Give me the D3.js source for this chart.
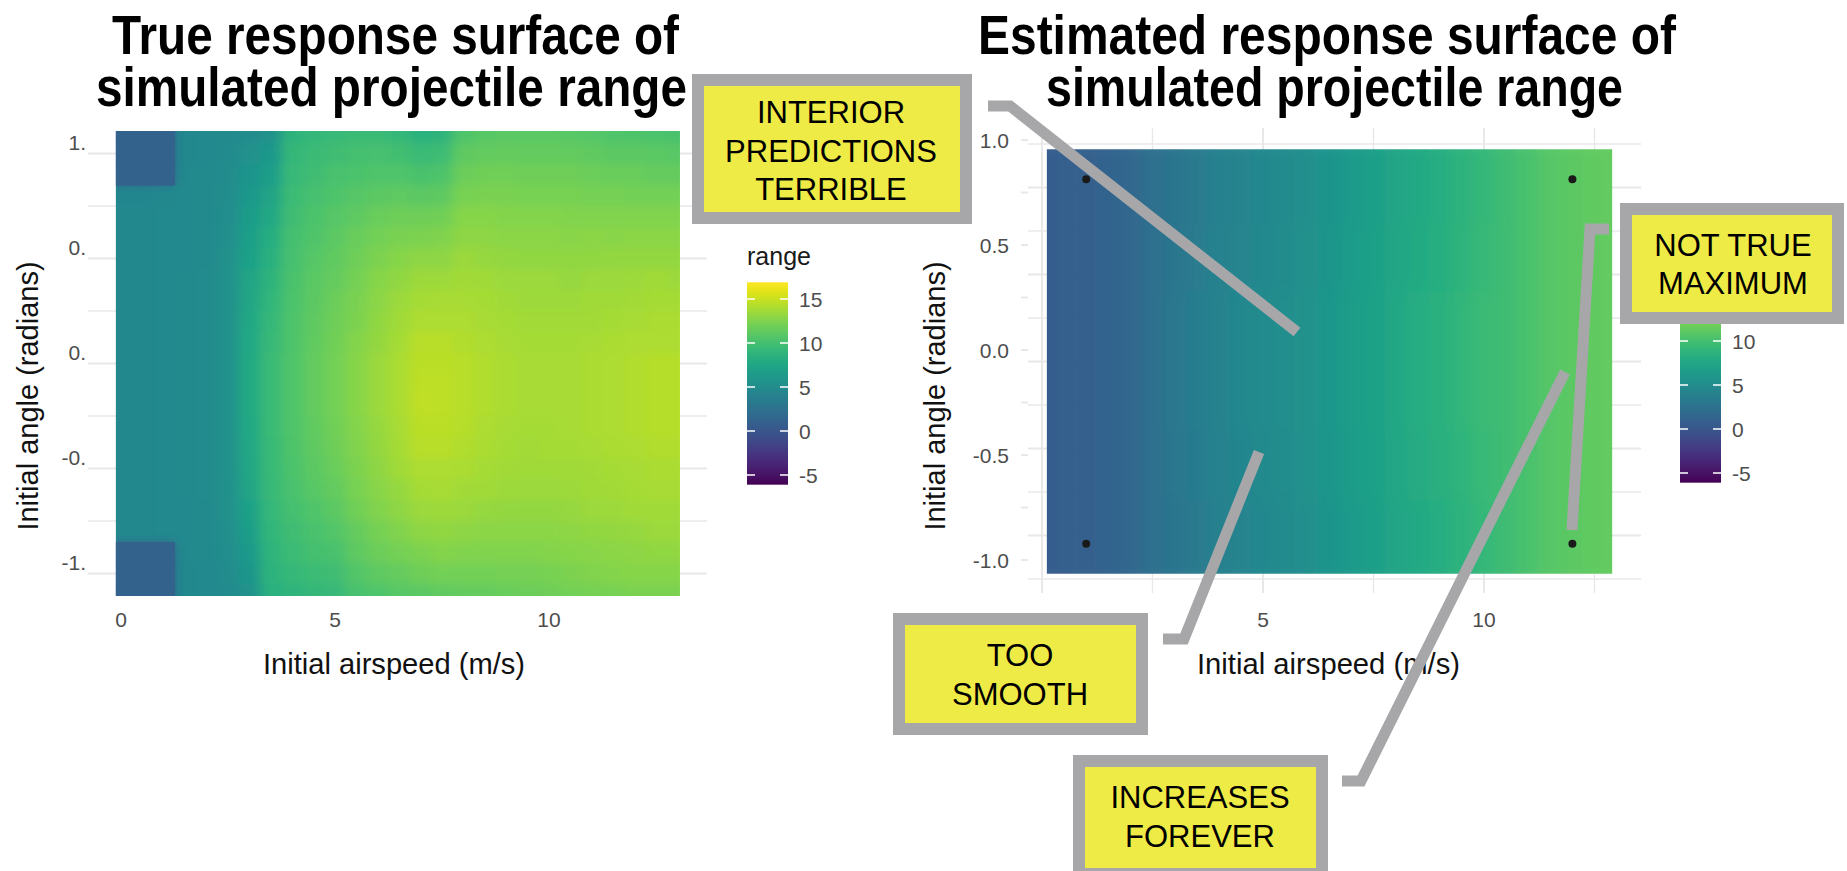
<!DOCTYPE html>
<html><head><meta charset="utf-8">
<script src="https://cdn.jsdelivr.net/npm/d3@7"></script>
<style>
body{margin:0;background:#fff}
svg{display:block}
text{font-family:"Liberation Sans",Arial,Helvetica,sans-serif}
</style>
</head><body>
<svg id="c" width="1847" height="871"></svg>
<script>
// ---------------- DATA ----------------
const speedCells = [0,0.5,1,1.5,2,2.5,3,3.5,4,4.5,5,5.5,6,6.5,7,7.5,8,8.5,9,9.5,10,10.5,11,11.5,12,12.5,13];
const trueAngleRows = [1.1,1.0,0.9,0.8,0.7,0.6,0.5,0.4,0.3,0.2,0.1,0.0,-0.1,-0.2,-0.3,-0.4,-0.5,-0.6,-0.7,-0.8,-0.9,-1.0,-1.1];
const trueRange = [
[1.0,1.0,1.0,4.6,4.7,4.8,5.0,5.6,8.8,9.2,9.4,9.5,9.5,9.2,8.6,8.8,10.6,10.9,11.0,11.0,11.0,10.9,10.8,10.6,10.5,10.4,10.3],
[1.0,1.0,1.0,4.6,4.7,4.9,5.4,6.2,9.1,9.5,9.8,10.0,10.1,9.9,9.5,9.7,11.2,11.4,11.5,11.4,11.4,11.4,11.3,11.1,11.1,11.0,10.9],
[1.0,1.0,1.0,4.7,4.8,5.0,5.8,6.7,9.3,9.8,10.2,10.4,10.6,10.6,10.3,10.5,11.7,11.9,11.9,11.8,11.8,11.8,11.7,11.6,11.6,11.5,11.5],
[4.5,4.5,4.6,4.7,4.8,5.1,6.2,7.2,9.6,10.1,10.5,10.8,11.1,11.2,11.1,11.2,12.2,12.3,12.3,12.2,12.2,12.2,12.1,12.1,12.0,12.0,12.0],
[4.6,4.6,4.7,4.7,4.8,5.2,6.5,7.7,9.8,10.4,10.8,11.2,11.6,11.8,11.8,11.9,12.7,12.7,12.6,12.6,12.6,12.5,12.5,12.5,12.5,12.5,12.5],
[4.6,4.6,4.7,4.7,4.8,5.3,6.8,8.1,10.0,10.6,11.1,11.6,12.0,12.3,12.4,12.5,13.0,13.0,12.9,12.9,12.9,12.8,12.9,12.8,12.9,12.9,12.9],
[4.6,4.6,4.7,4.7,4.8,5.4,7.0,8.5,10.1,10.8,11.3,11.8,12.4,12.7,13.0,13.0,13.4,13.3,13.2,13.1,13.1,13.1,13.1,13.2,13.2,13.2,13.2],
[4.6,4.6,4.7,4.8,4.9,5.5,7.3,8.8,10.3,11.0,11.5,12.1,12.7,13.1,13.5,13.5,13.7,13.6,13.4,13.4,13.4,13.3,13.4,13.4,13.5,13.6,13.5],
[4.6,4.6,4.7,4.8,4.9,5.5,7.4,9.0,10.4,11.1,11.7,12.3,12.9,13.4,13.8,13.9,13.9,13.8,13.6,13.5,13.5,13.5,13.6,13.6,13.7,13.8,13.8],
[4.6,4.6,4.7,4.8,4.9,5.5,7.6,9.2,10.5,11.2,11.8,12.4,13.1,13.6,14.1,14.1,14.1,13.9,13.8,13.7,13.7,13.7,13.7,13.8,13.9,14.0,14.0],
[4.6,4.6,4.7,4.8,4.9,5.6,7.7,9.3,10.5,11.3,11.9,12.6,13.2,13.8,14.4,14.4,14.2,14.1,13.9,13.8,13.8,13.8,13.9,14.0,14.1,14.1,14.1],
[4.6,4.6,4.7,4.8,4.9,5.6,7.8,9.5,10.6,11.4,12.0,12.7,13.4,14.0,14.5,14.5,14.4,14.2,14.0,13.9,13.9,13.9,14.0,14.1,14.2,14.3,14.3],
[4.6,4.6,4.7,4.8,4.9,5.6,7.8,9.5,10.6,11.4,12.0,12.7,13.4,14.0,14.6,14.6,14.4,14.2,14.0,13.9,13.9,13.9,14.0,14.1,14.2,14.3,14.3],
[4.6,4.6,4.7,4.8,4.9,5.6,7.8,9.5,10.6,11.4,12.0,12.7,13.4,14.0,14.7,14.6,14.4,14.2,14.0,13.9,13.9,13.9,14.0,14.1,14.2,14.3,14.3],
[4.6,4.6,4.7,4.8,4.9,5.6,7.7,9.5,10.6,11.3,11.9,12.6,13.3,13.9,14.5,14.5,14.3,14.1,13.9,13.8,13.8,13.9,14.0,14.1,14.2,14.3,14.3],
[4.6,4.6,4.7,4.8,4.9,5.5,7.6,9.4,10.5,11.2,11.8,12.5,13.2,13.8,14.4,14.4,14.2,14.0,13.8,13.7,13.8,13.8,13.9,14.0,14.1,14.2,14.2],
[4.6,4.6,4.7,4.8,4.9,5.5,7.5,9.4,10.4,11.1,11.6,12.4,13.0,13.6,14.1,14.1,14.0,13.8,13.7,13.6,13.6,13.6,13.7,13.8,13.9,14.0,14.0],
[4.6,4.6,4.7,4.8,4.9,5.4,7.3,9.3,10.2,10.9,11.4,12.2,12.8,13.3,13.8,13.9,13.7,13.6,13.5,13.4,13.4,13.5,13.6,13.7,13.8,13.9,13.9],
[4.6,4.6,4.7,4.7,4.8,5.4,7.0,9.2,10.0,10.6,11.1,11.9,12.5,13.0,13.4,13.5,13.4,13.3,13.2,13.2,13.2,13.3,13.4,13.5,13.6,13.6,13.6],
[4.6,4.6,4.7,4.7,4.8,5.3,6.7,9.0,9.8,10.3,10.7,11.5,12.1,12.5,13.0,13.1,13.0,12.9,12.9,12.9,12.9,13.0,13.1,13.2,13.3,13.4,13.4],
[1.0,1.0,1.0,4.7,4.8,5.2,6.3,8.9,9.6,10.0,10.3,11.2,11.7,12.1,12.4,12.6,12.5,12.5,12.5,12.5,12.6,12.7,12.8,12.9,13.0,13.1,13.1],
[1.0,1.0,1.0,4.6,4.7,5.0,5.9,8.7,9.2,9.6,9.8,10.7,11.2,11.5,11.8,12.0,12.0,12.0,12.1,12.1,12.2,12.4,12.5,12.6,12.7,12.7,12.7],
[1.0,1.0,1.0,4.6,4.7,4.9,5.4,8.5,8.9,9.1,9.3,10.2,10.6,10.9,11.1,11.3,11.4,11.5,11.6,11.7,11.8,12.0,12.1,12.2,12.3,12.3,12.3]
];
const estAngleRows = [1.0,0.6,0.2,-0.2,-0.6,-1.0];
const estRange = [
[0.5,0.7,0.9,1.2,1.6,2.3,2.8,3.3,3.9,4.3,4.6,4.9,5.3,5.8,6.3,6.8,7.3,7.8,8.2,8.7,9.2,9.8,10.3,10.8,11.1,11.3,11.5],
[0.5,0.7,0.9,1.2,1.6,2.3,2.9,3.4,4.0,4.4,4.7,5.0,5.4,5.9,6.4,6.9,7.4,7.9,8.3,8.8,9.3,9.8,10.3,10.8,11.1,11.3,11.5],
[0.5,0.7,0.9,1.2,1.6,2.3,3.1,3.6,4.2,4.6,4.9,5.2,5.6,6.1,6.6,7.1,7.6,8.1,8.5,9.0,9.5,9.8,10.3,10.8,11.1,11.3,11.5],
[0.5,0.7,0.9,1.2,1.6,2.3,3.1,3.6,4.2,4.6,4.9,5.2,5.6,6.1,6.6,7.1,7.6,8.1,8.5,9.0,9.5,9.8,10.3,10.8,11.1,11.3,11.5],
[0.5,0.7,0.9,1.2,1.6,2.3,3.0,3.5,4.1,4.5,4.8,5.1,5.5,6.0,6.5,7.0,7.5,8.0,8.4,8.9,9.4,9.8,10.3,10.8,11.1,11.3,11.5],
[0.5,0.7,0.9,1.2,1.6,2.3,2.8,3.3,3.9,4.3,4.6,4.9,5.3,5.8,6.3,6.8,7.3,7.8,8.2,8.7,9.2,9.8,10.3,10.8,11.1,11.3,11.5]
];
const trueSpeedExtent = [-0.12, 13.06];
const trueAngleExtent = [-1.107, 1.107];
const estSpeedExtent = [0.11, 12.9];
const estAngleExtent = [-1.22, 1.22];
const designSpeed = [1, 1, 12, 12];
const designAngle = [1.047, -1.047, 1.047, -1.047];
const rangeLimits = [-6.1, 16.9];
const legendTicks = [-5, 0, 5, 10, 15];
const xTicks = [0, 5, 10];
const yTickValues = [1, 0.5, 0, -0.5, -1];
const leftYTickLabels = ["1.", "0.", "0.", "-0.", "-1."];
const rightYTickLabels = ["1.0", "0.5", "0.0", "-0.5", "-1.0"];
const leftGridY = [1, 0.75, 0.5, 0.25, 0, -0.25, -0.5, -0.75, -1];
const rightGridY = [1.25, 1, 0.75, 0.5, 0.25, 0, -0.25, -0.5, -0.75, -1, -1.25];
const rightGridX = [0, 2.5, 5, 7.5, 10, 12.5];
const leftTitle = ["True response surface of", "simulated projectile range"];
const rightTitle = ["Estimated response surface of", "simulated projectile range"];
const xAxisTitle = "Initial airspeed (m/s)";
const yAxisTitle = "Initial angle (radians)";
const legendTitle = "range";
const notes = [
  ["INTERIOR", "PREDICTIONS", "TERRIBLE"],
  ["NOT TRUE", "MAXIMUM"],
  ["TOO", "SMOOTH"],
  ["INCREASES", "FOREVER"]
];

// ---------------- DRAW ----------------
const svg = d3.select("#c");
const defs = svg.append("defs");
const color = d3.scaleSequential(d3.interpolateViridis).domain(rangeLimits);
const GRID = "#e8e8e8", AXT = "#4d4d4d", BOXG = "#a7a7a9", BOXY = "#efeb46";

function raster(g, id, xs, ys, rows, mat, xExt, yExt, blur, sharpBelow) {
  defs.append("clipPath").attr("id", id)
    .append("rect")
    .attr("x", xs(xExt[0])).attr("y", ys(yExt[1]))
    .attr("width", xs(xExt[1]) - xs(xExt[0])).attr("height", ys(yExt[0]) - ys(yExt[1]));
  defs.append("filter").attr("id", id + "f")
    .attr("x", -0.1).attr("y", -0.1).attr("width", 1.2).attr("height", 1.2)
    .append("feGaussianBlur").attr("stdDeviation", blur);
  const sx = speedCells[1] - speedCells[0];
  const sy = Math.abs(rows[0] - rows[1]);
  const nI = speedCells.length - 1, nJ = rows.length - 1, pad = 25;
  const cells = [];
  rows.forEach((yv, j) => speedCells.forEach((xv, i) => cells.push({x: xv, y: yv, v: mat[j][i], i, j})));
  const geom = sel => sel
    .attr("x", d => xs(d.x - sx / 2) - (d.i === 0 ? pad : 0))
    .attr("y", d => ys(d.y + sy / 2) - (d.j === 0 ? pad : 0))
    .attr("width", d => xs(d.x + sx / 2) - xs(d.x - sx / 2) + 0.6 + (d.i === 0 || d.i === nI ? pad : 0))
    .attr("height", d => ys(d.y - sy / 2) - ys(d.y + sy / 2) + 0.6 + (d.j === 0 || d.j === nJ ? pad : 0))
    .attr("fill", d => color(d.v));
  const outer = g.append("g").attr("clip-path", `url(#${id})`);
  outer.append("g").attr("filter", `url(#${id}f)`)
    .selectAll("rect").data(cells).join("rect").call(geom);
  if (sharpBelow !== undefined) {
    outer.append("g").selectAll("rect").data(cells.filter(d => d.v < sharpBelow)).join("rect").call(geom);
  }
}

function legend(x0, ys, id, showTitle, labelled) {
  const g = svg.append("g");
  const grad = defs.append("linearGradient").attr("id", id)
    .attr("x1", 0).attr("y1", 1).attr("x2", 0).attr("y2", 0);
  d3.range(0, 1.0001, 0.05).forEach(t => grad.append("stop").attr("offset", t)
    .attr("stop-color", d3.interpolateViridis(t)));
  const w = 41;
  g.append("rect").attr("x", x0).attr("y", ys(rangeLimits[1])).attr("width", w)
    .attr("height", ys(rangeLimits[0]) - ys(rangeLimits[1])).attr("fill", `url(#${id})`);
  legendTicks.forEach(t => {
    g.append("line").attr("x1", x0).attr("x2", x0 + 8).attr("y1", ys(t)).attr("y2", ys(t))
      .attr("stroke", "#fff").attr("stroke-width", 1.5);
    g.append("line").attr("x1", x0 + w - 8).attr("x2", x0 + w).attr("y1", ys(t)).attr("y2", ys(t))
      .attr("stroke", "#fff").attr("stroke-width", 1.5);
    if (labelled.includes(t)) g.append("text").attr("x", x0 + w + 11).attr("y", ys(t)).attr("dy", "0.36em")
      .attr("font-size", 21).attr("fill", AXT).text(t);
  });
  if (showTitle) g.append("text").attr("x", x0).attr("y", ys(rangeLimits[1]) - 17)
    .attr("font-size", 25).attr("fill", "#1a1a1a").text(legendTitle);
}

// ----- Left panel -----
const lx = d3.scaleLinear().domain([0, 10]).range([121, 549]);
const lyGrid = d3.scaleLinear().domain([0, 1]).range([363.5, 153.5]);
const lyLab = d3.scaleLinear().domain([0, 1]).range([352, 142]);
const L = svg.append("g");
L.selectAll("line.gy").data(leftGridY).join("line")
  .attr("x1", 88).attr("x2", 707).attr("y1", d => lyGrid(d)).attr("y2", d => lyGrid(d))
  .attr("stroke", GRID).attr("stroke-width", d => (d * 2) % 1 === 0 ? 2 : 1.4);
raster(L, "clipL", lx, lyGrid, trueAngleRows, trueRange, trueSpeedExtent, trueAngleExtent, "6 5", 3);
L.selectAll("text.yl").data(yTickValues).join("text")
  .attr("x", 86).attr("y", d => lyLab(d)).attr("dy", "0.36em").attr("text-anchor", "end")
  .attr("font-size", 21).attr("fill", AXT).text((d, i) => leftYTickLabels[i]);
L.selectAll("text.xl").data(xTicks).join("text")
  .attr("x", d => lx(d)).attr("y", 627).attr("text-anchor", "middle")
  .attr("font-size", 21).attr("fill", AXT).text(d => d);
L.append("text").attr("x", 263).attr("y", 674).attr("font-size", 29).attr("fill", "#111")
  .attr("textLength", 262).attr("lengthAdjust", "spacingAndGlyphs").text(xAxisTitle);
L.append("text").attr("transform", "translate(38,396) rotate(-90)").attr("text-anchor", "middle")
  .attr("font-size", 29).attr("fill", "#111").text(yAxisTitle);
legend(747, d3.scaleLinear().domain([0, 10]).range([431, 343]), "gradL", true, legendTicks);

// ----- Right panel -----
const rx = d3.scaleLinear().domain([0, 10]).range([1042, 1484]);
const ryGrid = d3.scaleLinear().domain([0, 1]).range([361.5, 187.5]);
const ryLab = d3.scaleLinear().domain([0, 1]).range([350, 140]);
const R = svg.append("g");
R.selectAll("line.gy").data(rightGridY).join("line")
  .attr("x1", 1028).attr("x2", 1641).attr("y1", d => ryGrid(d)).attr("y2", d => ryGrid(d))
  .attr("stroke", GRID).attr("stroke-width", d => (d * 2) % 1 === 0 ? 2 : 1.4);
R.selectAll("line.gx").data(rightGridX).join("line")
  .attr("x1", d => rx(d)).attr("x2", d => rx(d)).attr("y1", 128).attr("y2", 593)
  .attr("stroke", GRID).attr("stroke-width", d => d % 5 === 0 ? 2 : 1.4);
R.selectAll("line.st").data(leftGridY).join("line")
  .attr("x1", 1021).attr("x2", 1028).attr("y1", d => ryLab(d)).attr("y2", d => ryLab(d))
  .attr("stroke", GRID).attr("stroke-width", 2);
raster(R, "clipR", rx, ryGrid, estAngleRows, estRange, estSpeedExtent, estAngleExtent, "7 12");
R.selectAll("circle").data(designSpeed).join("circle")
  .attr("cx", d => rx(d)).attr("cy", (d, i) => ryGrid(designAngle[i])).attr("r", 4).attr("fill", "#1a1a1a");
R.selectAll("text.yl").data(yTickValues).join("text")
  .attr("x", 1009).attr("y", d => ryLab(d)).attr("dy", "0.36em").attr("text-anchor", "end")
  .attr("font-size", 21).attr("fill", AXT).text((d, i) => rightYTickLabels[i]);
R.selectAll("text.xl").data(xTicks).join("text")
  .attr("x", d => rx(d)).attr("y", 627).attr("text-anchor", "middle")
  .attr("font-size", 21).attr("fill", AXT).text(d => d);
R.append("text").attr("x", 1197).attr("y", 674).attr("font-size", 29).attr("fill", "#111")
  .attr("textLength", 263).attr("lengthAdjust", "spacingAndGlyphs").text(xAxisTitle);
R.append("text").attr("transform", "translate(945,396) rotate(-90)").attr("text-anchor", "middle")
  .attr("font-size", 29).attr("fill", "#111").text(yAxisTitle);
legend(1680, d3.scaleLinear().domain([0, 10]).range([429, 341]), "gradR", false, [-5, 0, 5, 10]);

// ----- Titles -----
function title(x, y, len, txt) {
  svg.append("text").attr("x", x).attr("y", y).attr("font-size", 55).attr("font-weight", "bold")
    .attr("fill", "#000").attr("textLength", len).attr("lengthAdjust", "spacingAndGlyphs").text(txt);
}
title(112, 54, 567, leftTitle[0]);
title(96, 106, 591, leftTitle[1]);
title(978, 54, 698, rightTitle[0]);
title(1046, 106, 577, rightTitle[1]);

// ----- Annotation connectors -----
const connectors = [
  [[988,106],[1010,106],[1297,332]],
  [[1609,229],[1590,229],[1572,530]],
  [[1163,639],[1184,639],[1259,452]],
  [[1342,781],[1361,781],[1565,372]]
];
connectors.forEach(p => svg.append("path").attr("d", d3.line()(p)).attr("fill", "none")
  .attr("stroke", BOXG).attr("stroke-width", 11).attr("stroke-linejoin", "miter"));

// ----- Annotation boxes -----
const boxes = [
  {x: 692, y: 74, w: 280, h: 150, cx: 831, base: [123, 162, 200]},
  {x: 1620, y: 203, w: 224, h: 121, cx: 1733, base: [256, 294]},
  {x: 893, y: 613, w: 255, h: 122, cx: 1020, base: [666, 705]},
  {x: 1073, y: 755, w: 255, h: 125, cx: 1200, base: [808, 847]}
];
boxes.forEach((b, k) => {
  svg.append("rect").attr("x", b.x).attr("y", b.y).attr("width", b.w).attr("height", b.h).attr("fill", BOXG);
  svg.append("rect").attr("x", b.x + 12).attr("y", b.y + 12).attr("width", b.w - 24).attr("height", b.h - 24).attr("fill", BOXY);
  notes[k].forEach((t, i) => svg.append("text").attr("x", b.cx).attr("y", b.base[i])
    .attr("text-anchor", "middle").attr("font-size", 31).attr("fill", "#000").text(t));
});
</script>
</body></html>
